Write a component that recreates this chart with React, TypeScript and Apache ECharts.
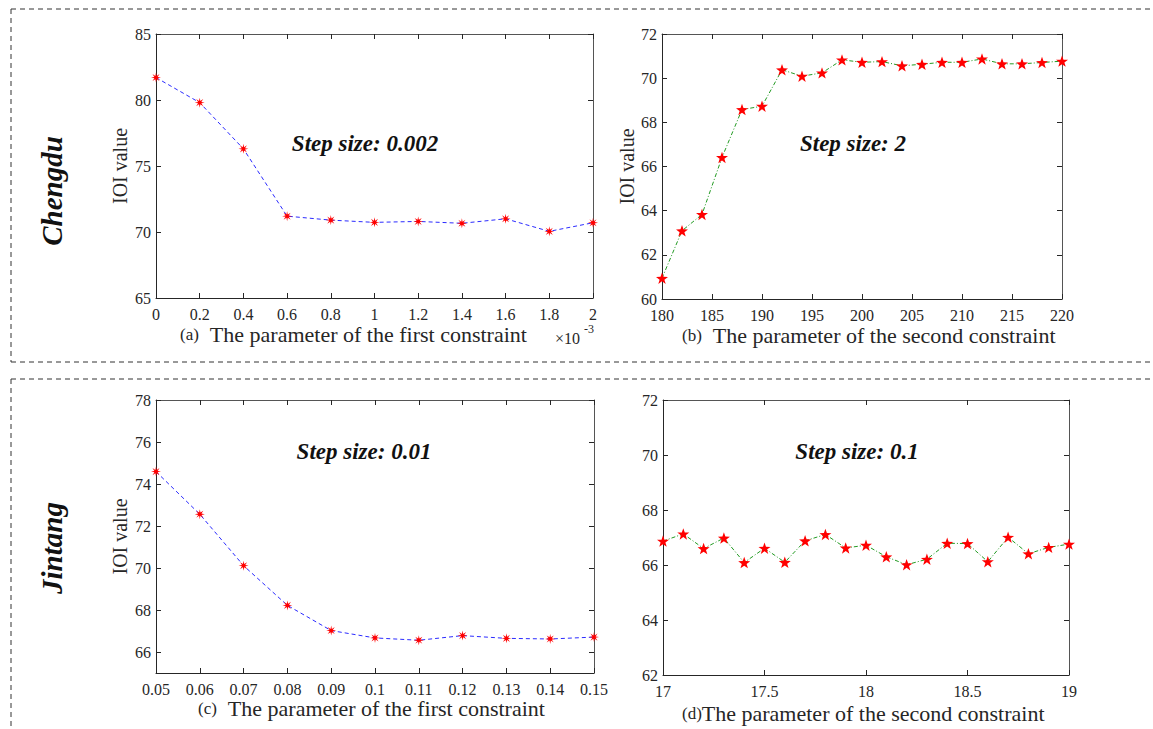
import React, { useEffect, useRef } from "react";
import * as echarts from "echarts";

// (a) Chengdu, first constraint (x in units of 1e-3)
const xA = [0, 0.2, 0.4, 0.6, 0.8, 1, 1.2, 1.4, 1.6, 1.8, 2];
const yA = [81.7, 79.8, 76.3, 71.2, 70.9, 70.73, 70.8, 70.66, 71.0, 70.05, 70.7];
// (b) Chengdu, second constraint
const xB = [180, 182, 184, 186, 188, 190, 192, 194, 196, 198, 200, 202, 204, 206, 208, 210, 212, 214, 216, 218, 220];
const yB = [60.94, 63.09, 63.83, 66.41, 68.58, 68.73, 70.38, 70.09, 70.24, 70.83, 70.72, 70.75, 70.56, 70.63, 70.72, 70.72, 70.87, 70.65, 70.65, 70.71, 70.77];
// (c) Jintang, first constraint
const xC = [0.05, 0.06, 0.07, 0.08, 0.09, 0.1, 0.11, 0.12, 0.13, 0.14, 0.15];
const yC = [74.59, 72.56, 70.11, 68.22, 67.02, 66.67, 66.56, 66.78, 66.65, 66.62, 66.71];
// (d) Jintang, second constraint
const xD = [17, 17.1, 17.2, 17.3, 17.4, 17.5, 17.6, 17.7, 17.8, 17.9, 18, 18.1, 18.2, 18.3, 18.4, 18.5, 18.6, 18.7, 18.8, 18.9, 19];
const yD = [66.87, 67.13, 66.6, 66.98, 66.09, 66.61, 66.1, 66.88, 67.11, 66.62, 66.72, 66.3, 66.01, 66.21, 66.79, 66.78, 66.12, 67.01, 66.41, 66.64, 66.76];

const SERIF = "Liberation Serif";
const AX = "#262626";

function starPath(points: number, rOut: number, rIn: number) {
  const pts: string[] = [];
  for (let i = 0; i < points * 2; i++) {
    const r = i % 2 === 0 ? rOut : rIn;
    const a = -Math.PI / 2 + (i * Math.PI) / points;
    pts.push(`${(r * Math.cos(a)).toFixed(2)},${(r * Math.sin(a)).toFixed(2)}`);
  }
  return "path://M" + pts.join(" L") + " Z";
}
const PENTAGRAM = starPath(5, 10, 4);
const ASTERISK = starPath(8, 10, 3.5);

const grids = [
  { left: 156, top: 34, width: 437, height: 264 },
  { left: 662, top: 34, width: 400, height: 265 },
  { left: 156, top: 400, width: 438, height: 273 },
  { left: 663, top: 400, width: 406, height: 275 },
];

const xCfg = [
  { min: 0, max: 2, interval: 0.2 },
  { min: 180, max: 220, interval: 5 },
  { min: 0.05, max: 0.15, interval: 0.01 },
  { min: 17, max: 19, interval: 0.5 },
];
const yCfg: any[] = [
  { min: 65, max: 85, interval: 5 },
  { min: 60, max: 72, interval: 2 },
  { min: 65, max: 78, minInterval: 2, maxInterval: 2 },
  { min: 62, max: 72, interval: 2 },
];
const yNames = ["IOI value", "IOI value", "IOI value", ""];
const yNameGaps = [26, 22, 26, 0];

const fmtNum = (v: number) => String(parseFloat(Number(v).toFixed(4)));

export default function App() {
  const ref = useRef<HTMLDivElement>(null);
  useEffect(() => {
    if (!ref.current) return;
    const chart = echarts.init(ref.current, null, { renderer: "svg" });

    const xAxis: any[] = [];
    const yAxis: any[] = [];
    const tickStyle = { show: true, inside: true, length: 5, lineStyle: { color: AX, width: 1 } };
    for (let i = 0; i < 4; i++) {
      xAxis.push({
        type: "value", gridIndex: i, position: "bottom", ...xCfg[i],
        axisLine: { show: true, onZero: false, lineStyle: { color: AX, width: 1 } },
        axisTick: tickStyle,
        splitLine: { show: false },
        axisLabel: { color: AX, fontFamily: SERIF, fontSize: 16, margin: 8, formatter: fmtNum },
      });
      yAxis.push({
        type: "value", gridIndex: i, position: "left", ...yCfg[i],
        name: yNames[i], nameLocation: "middle", nameGap: yNameGaps[i],
        nameTextStyle: { color: AX, fontFamily: SERIF, fontSize: 20 },
        axisLine: { show: true, onZero: false, lineStyle: { color: AX, width: 1 } },
        axisTick: tickStyle,
        splitLine: { show: false },
        axisLabel: {
          color: AX, fontFamily: SERIF, fontSize: 16, margin: 5, formatter: fmtNum,
          showMinLabel: i === 2 ? false : true,
        },
      });
    }
    for (let i = 0; i < 4; i++) {
      xAxis.push({
        type: "value", gridIndex: i, position: "top", ...xCfg[i],
        axisLine: { show: true, onZero: false, lineStyle: { color: "#555", width: 1 } },
        axisTick: tickStyle, splitLine: { show: false }, axisLabel: { show: false },
      });
      yAxis.push({
        type: "value", gridIndex: i, position: "right", ...yCfg[i],
        axisLine: { show: true, onZero: false, lineStyle: { color: "#555", width: 1 } },
        axisTick: tickStyle, splitLine: { show: false }, axisLabel: { show: false },
      });
    }

    const zip = (xs: number[], ys: number[]) => xs.map((x, k) => [x, ys[k]]);
    const blueLine = { color: "#2b2bff", width: 1, type: [4, 3] };
    const greenLine = { color: "#239b23", width: 1, type: [4, 2, 1, 2] };
    const series: any[] = [
      { data: zip(xA, yA), lineStyle: blueLine, symbol: ASTERISK, symbolSize: 10 },
      { data: zip(xB, yB), lineStyle: greenLine, symbol: PENTAGRAM, symbolSize: 12 },
      { data: zip(xC, yC), lineStyle: blueLine, symbol: ASTERISK, symbolSize: 10 },
      { data: zip(xD, yD), lineStyle: greenLine, symbol: PENTAGRAM, symbolSize: 12 },
    ].map((s, i) => ({
      type: "line", xAxisIndex: i, yAxisIndex: i, ...s,
      showAllSymbol: true, symbolKeepAspect: true,
      itemStyle: { color: "#ff0000" },
      clip: false, z: 3,
    }));

    const dash = { stroke: "#333", lineWidth: 1, lineDash: [5, 4] };
    const line = (x1: number, y1: number, x2: number, y2: number) => ({
      type: "line", shape: { x1, y1, x2, y2 }, style: dash, silent: true,
    });
    const stepText = (text: string, x: number, y: number) => ({
      type: "text", x, y,
      style: {
        text, fill: "#111", fontFamily: SERIF, fontStyle: "italic", fontWeight: "bold",
        fontSize: 23, align: "center", verticalAlign: "middle",
      },
    });
    const sideText = (text: string, x: number, y: number) => ({
      type: "text", x, y, rotation: Math.PI / 2,
      style: {
        text, fill: "#111", fontFamily: SERIF, fontStyle: "italic", fontWeight: "bold",
        fontSize: 29, align: "center", verticalAlign: "middle",
      },
    });
    const capText = (tag: string, body: string, x: number, y: number, gap: string) => ({
      type: "text", x, y,
      style: {
        text: `{s|${tag}}${gap}{m|${body}}`, fill: AX, fontFamily: SERIF, fontSize: 22,
        align: "left", verticalAlign: "middle",
        rich: {
          s: { fontSize: 17, fontFamily: SERIF, fill: AX },
          m: { fontSize: 22, fontFamily: SERIF, fill: AX },
        },
      },
    });

    const graphic = [
      line(11, 9, 1153, 9), line(11, 9, 11, 362), line(11, 362, 1153, 362),
      line(11, 379, 1153, 379), line(11, 379, 11, 729),
      sideText("Chengdu", 52, 191),
      sideText("Jintang", 52, 548),
      stepText("Step size: 0.002", 365, 143),
      stepText("Step size: 2", 853, 143),
      stepText("Step size: 0.01", 364, 451),
      stepText("Step size: 0.1", 857, 451),
      capText("(a)", "The parameter of the first constraint", 180, 334, "  "),
      capText("(b)", "The parameter of the second constraint", 682, 335, "  "),
      capText("(c)", "The parameter of the first constraint", 198, 708, "  "),
      capText("(d)", "The parameter of the second constraint", 682, 713, ""),
      {
        type: "text", x: 555, y: 338,
        style: { text: "×10", fill: AX, fontFamily: SERIF, fontSize: 16, align: "left", verticalAlign: "middle" },
      },
      {
        type: "text", x: 584, y: 329,
        style: { text: "-3", fill: AX, fontFamily: SERIF, fontSize: 12, align: "left", verticalAlign: "middle" },
      },
    ];

    chart.setOption({
      animation: false,
      backgroundColor: "#ffffff",
      grid: grids.map((g) => ({ ...g, containLabel: false })),
      xAxis, yAxis, series, graphic,
    });
    return () => chart.dispose();
  }, []);
  return (
    <div
      ref={ref}
      style={{ position: "fixed", left: 0, top: 0, width: 1153, height: 729, background: "#fff" }}
    />
  );
}
